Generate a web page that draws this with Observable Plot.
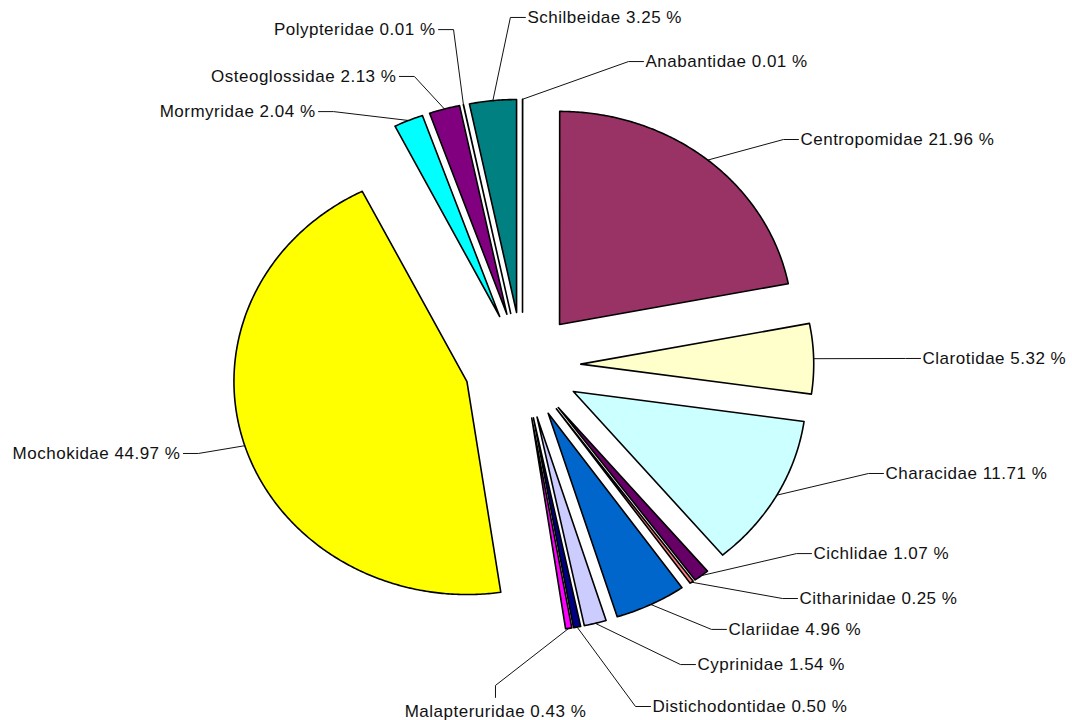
<!DOCTYPE html>
<html><head><meta charset="utf-8">
<script src="https://cdn.jsdelivr.net/npm/d3@7"></script>
<script src="https://cdn.jsdelivr.net/npm/@observablehq/plot@0.6"></script>
<style>body{margin:0;background:#fff}</style>
</head><body><div id="chart"></div>
<script>
// ---- data ----
const families = ["Anabantidae","Centropomidae","Clarotidae","Characidae","Cichlidae","Citharinidae","Clariidae","Cyprinidae","Distichodontidae","Malapteruridae","Mochokidae","Mormyridae","Osteoglossidae","Polypteridae","Schilbeidae"];
const shares = [0.01,21.96,5.32,11.71,1.07,0.25,4.96,1.54,0.50,0.43,44.97,2.04,2.13,0.01,3.25];
const colors = ["#9999FF","#993366","#FFFFCC","#CCFFFF","#660066","#FF8080","#0066CC","#CCCCFF","#000080","#FF00FF","#FFFF00","#00FFFF","#800080","#800000","#008080"];

// ---- label placement (leader-line elbow, in pie-radius units) ----
const labelElbowU = [0.455,1.120,1.644,1.485,1.176,1.116,0.811,0.678,0.485,-0.116,-1.391,-0.811,-0.464,-0.296,-0.052];
const labelElbowV = [1.427,1.061,0.033,-0.507,-0.883,-1.094,-1.239,-1.404,-1.601,-1.502,-0.413,1.192,1.357,1.577,1.634];
const labelSide = ["right","right","right","right","right","right","right","right","right","bottom","left","left","left","left","right"];

// ---- layout ----
const cx = 522, cy = 365, rx = 233, ry = 213, explode = 0.25;
const segPx = 15;

const arcs = d3.pie().sort(null).value(d => d)(shares);
const slicePts = [];
const leaderPts = [];
const labels = [];
arcs.forEach((a, i) => {
  const name = families[i];
  const mid = (a.startAngle + a.endAngle) / 2;
  const ox = explode * Math.sin(mid), oy = explode * Math.cos(mid);
  slicePts.push({name, x: ox, y: oy});
  const n = Math.max(2, Math.ceil((a.endAngle - a.startAngle) / (Math.PI / 360)));
  for (let k = 0; k <= n; k++) {
    const t = a.startAngle + (a.endAngle - a.startAngle) * k / n;
    slicePts.push({name, x: ox + Math.sin(t), y: oy + Math.cos(t)});
  }
  // leader line: arc midpoint -> elbow -> short straight end
  const side = labelSide[i];
  const ex = labelElbowU[i], ey = labelElbowV[i];
  let endX = ex, endY = ey;
  if (side === "right") endX = ex + segPx / rx;
  else if (side === "left") endX = ex - segPx / rx;
  else endY = ey - 12 / ry;
  leaderPts.push({name, x: (1 + explode) * Math.sin(mid), y: (1 + explode) * Math.cos(mid)});
  leaderPts.push({name, x: ex, y: ey});
  leaderPts.push({name, x: endX, y: endY});
  labels.push({name, side, x: endX, y: endY, text: `${name} ${shares[i].toFixed(2)} %`});
});

const font = "'Liberation Sans', Arial, sans-serif";
const chart = Plot.plot({
  width: 1072,
  height: 720,
  style: "font-family:" + font + ";letter-spacing:0.5px;background:#fff",
  x: {domain: [-1, 1], range: [cx - rx, cx + rx], axis: null},
  y: {domain: [-1, 1], range: [cy + ry, cy - ry], axis: null},
  color: {domain: families, range: colors},
  marks: [
    Plot.line(leaderPts, {x: "x", y: "y", z: "name", stroke: "#111", strokeWidth: 1, curve: "linear"}),
    Plot.line(slicePts, {x: "x", y: "y", z: "name", fill: "name", stroke: "#000", strokeWidth: 1.6, curve: "linear-closed"}),
    Plot.text(labels.filter(d => d.side === "right"), {x: "x", y: "y", text: "text", textAnchor: "start", dx: 2, fontSize: 17, fontFamily: font, fill: "#111"}),
    Plot.text(labels.filter(d => d.side === "left"), {x: "x", y: "y", text: "text", textAnchor: "end", dx: -3, fontSize: 17, fontFamily: font, fill: "#111"}),
    Plot.text(labels.filter(d => d.side === "bottom"), {x: "x", y: "y", text: "text", textAnchor: "middle", dy: 14, fontSize: 17, fontFamily: font, fill: "#111"})
  ]
});
document.getElementById("chart").appendChild(chart);
</script>
</body></html>
